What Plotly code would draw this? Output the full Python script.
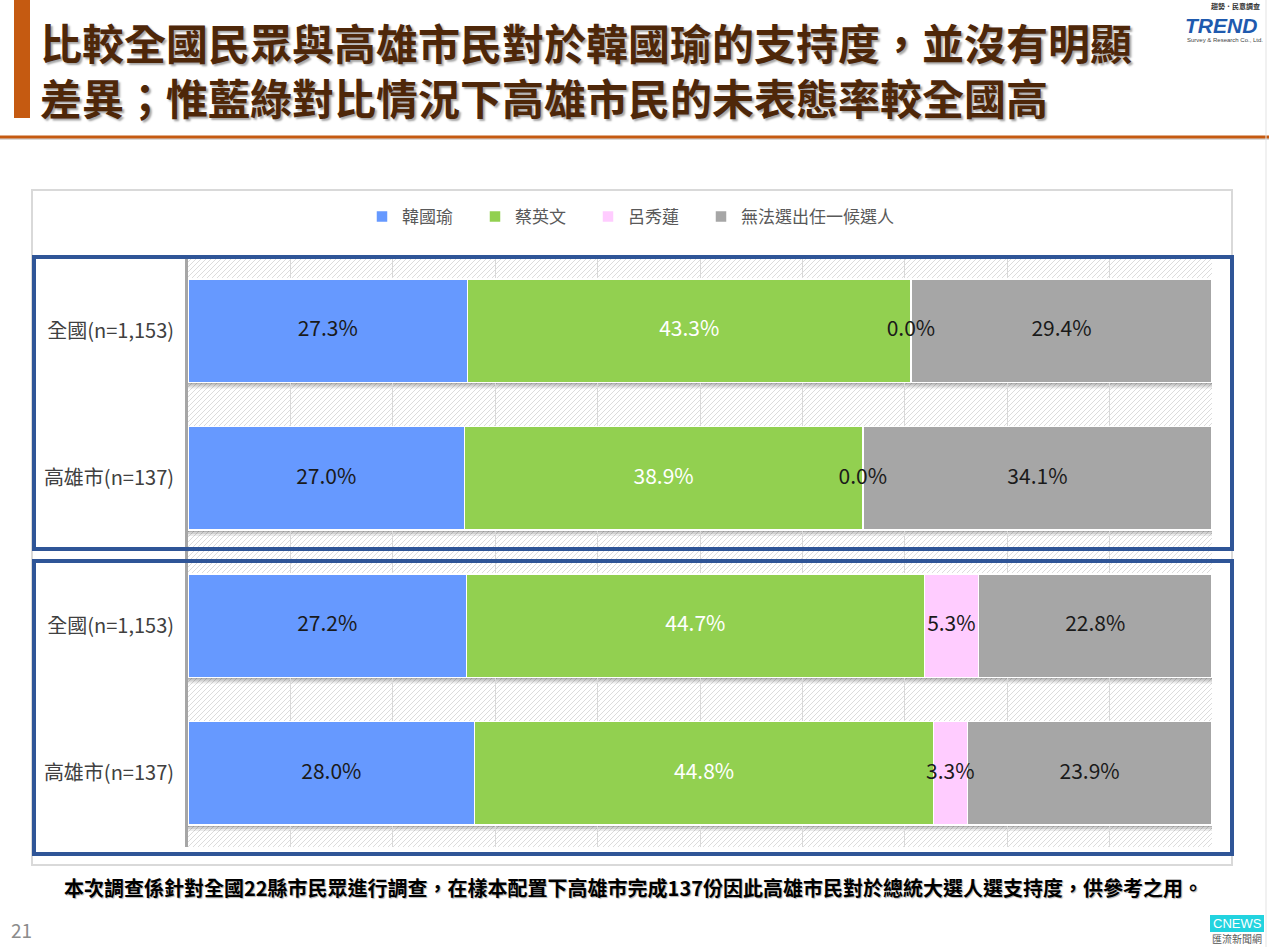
import plotly.graph_objects as go

# ---------------- data ----------------
categories = ["全國(n=1,153)", "高雄市(n=137)", "全國(n=1,153)", "高雄市(n=137)"]
series_names = ["韓國瑜", "蔡英文", "呂秀蓮", "無法選出任一候選人"]
han_kuo_yu = [27.3, 27.0, 27.2, 28.0]
tsai_ing_wen = [43.3, 38.9, 44.7, 44.8]
lu_hsiu_lien = [0.0, 0.0, 5.3, 3.3]
no_choice = [29.4, 34.1, 22.8, 23.9]
series_values = [han_kuo_yu, tsai_ing_wen, lu_hsiu_lien, no_choice]
series_colors = ["#6699FF", "#92D050", "#FFCCFF", "#A6A6A6"]
label_colors = ["#1a1a1a", "#ffffff", "#1a1a1a", "#1a1a1a"]

title_line1 = "比較全國民眾與高雄市民對於韓國瑜的支持度，並沒有明顯"
title_line2 = "差異；惟藍綠對比情況下高雄市民的未表態率較全國高"
footnote = "本次調查係針對全國22縣市民眾進行調查，在樣本配置下高雄市完成137份因此高雄市民對於總統大選人選支持度，供參考之用。"
page_number = "21"

# ---------------- layout geometry ----------------
W, H = 1269, 947
L, R, T, B = 188, 1212, 257, 847
CJK = "Noto Sans CJK TC, Noto Sans, sans-serif"


def px(x):
    return (x - L) / (R - L)


def py(y):
    return (B - y) / (B - T)


rows = list(range(len(categories)))
xu = (R - L) / 100.0
yu = (B - T) / len(categories)

fig = go.Figure()

for name, vals, col in zip(series_names, series_values, series_colors):
    fig.add_trace(go.Bar(
        orientation="h", x=vals, y=rows, name=name + "\u2003", width=0.7,
        marker=dict(color=col, line=dict(color="white", width=1.5)),
        hovertemplate=name + ": %{x:.1f}%<extra></extra>",
    ))

# data labels at segment centres
cum = [0.0] * len(rows)
for name, vals, lc in zip(series_names, series_values, label_colors):
    centers = [c + v / 2 for c, v in zip(cum, vals)]
    cum = [c + v for c, v in zip(cum, vals)]
    fig.add_trace(go.Scatter(
        x=centers, y=rows, mode="text", text=[f"{v:.1f}%" for v in vals],
        textposition="middle center",
        textfont=dict(size=21, color=lc, family=CJK),
        showlegend=False, hoverinfo="skip",
    ))

shapes = []

# hatched plot background (decoration)
segs = []
span = (B - T) + 40
p = L - span
while p < R + 10:
    x0p, y0p = p, B + 20
    x1p, y1p = p + span, T - 20
    x0 = (x0p - L) / xu
    x1 = (x1p - L) / xu
    y0 = (y0p - T) / yu - 0.5
    y1 = (y1p - T) / yu - 0.5
    segs.append(f"M{x0:.3f},{y0:.4f}L{x1:.3f},{y1:.4f}")
    p += 5
shapes.append(dict(type="path", xref="x", yref="y", path="".join(segs),
                   line=dict(color="#dcdcdc", width=1), layer="below"))

# soft shadows under bars
for r in rows:
    base = r + 0.35
    for k, op in enumerate([0.30, 0.18, 0.08]):
        shapes.append(dict(type="rect", xref="x", yref="y", x0=0, x1=100,
                           y0=base + (k * 2) / yu, y1=base + (k * 2 + 2) / yu,
                           fillcolor=f"rgba(0,0,0,{op})", line=dict(width=0),
                           layer="below"))

# outer chart border
shapes.append(dict(type="rect", xref="paper", yref="paper",
                   x0=px(32), x1=px(1232), y0=py(865), y1=py(190),
                   line=dict(color="#d9d9d9", width=2), layer="below"))
# blue group boxes
for y_top, y_bot in [(257, 549), (561, 854)]:
    shapes.append(dict(type="rect", xref="paper", yref="paper",
                       x0=px(34), x1=px(1232), y0=py(y_bot), y1=py(y_top),
                       line=dict(color="#2F5597", width=4), layer="above"))
# left orange accent bar
shapes.append(dict(type="rect", xref="paper", yref="paper",
                   x0=px(14), x1=px(30), y0=py(118), y1=py(0),
                   fillcolor="#C55A11", line=dict(width=0)))
# orange separator line
shapes.append(dict(type="line", xref="paper", yref="paper",
                   x0=px(0), x1=px(1269), y0=py(139), y1=py(139),
                   line=dict(color="#d9d9d9", width=2)))
shapes.append(dict(type="line", xref="paper", yref="paper",
                   x0=px(0), x1=px(1269), y0=py(137), y1=py(137),
                   line=dict(color="#C55A11", width=3)))
# slide right edge
shapes.append(dict(type="line", xref="paper", yref="paper",
                   x0=px(1266), x1=px(1266), y0=py(947), y1=py(0),
                   line=dict(color="#e3e3e3", width=1)))
# CNEWS badge
shapes.append(dict(type="rect", xref="paper", yref="paper",
                   x0=px(1210), x1=px(1264), y0=py(932), y1=py(915),
                   fillcolor="#22D3DF", line=dict(width=0)))

shadow = "2px 2px 2px rgba(0,0,0,0.35)"
annotations = [
    dict(text=title_line1 + "<br>" + title_line2, x=px(38), y=py(69),
         xanchor="left", yanchor="middle", align="left",
         font=dict(size=42, color="#4E2709", family=CJK, weight="bold", shadow=shadow)),
    dict(text=footnote, x=px(62), y=py(887), xanchor="left", yanchor="middle",
         font=dict(size=20, color="#000000", family=CJK, weight="bold",
                   shadow="1px 1px 1px rgba(0,0,0,0.3)")),
    dict(text=page_number, x=px(9), y=py(929), xanchor="left", yanchor="middle",
         font=dict(size=19, color="#8c8c8c", family=CJK)),
    dict(text="CNEWS", x=px(1237), y=py(923), xanchor="center", yanchor="middle",
         font=dict(size=13, color="#ffffff", family="Liberation Sans")),
    dict(text="匯流新聞網", x=px(1237), y=py(938), xanchor="center", yanchor="middle",
         font=dict(size=10, color="#555555", family=CJK)),
    dict(text="趨勢．民意調查", x=px(1262), y=py(6), xanchor="right", yanchor="middle",
         font=dict(size=7, color="#333333", family=CJK, weight="bold")),
    dict(text="<i><b>TREND</b></i>", x=px(1259), y=py(25), xanchor="right", yanchor="middle",
         font=dict(size=21, color="#1F5AAE", family="Liberation Sans")),
    dict(text="Survey & Research Co., Ltd.", x=px(1265), y=py(40), xanchor="right",
         yanchor="middle", font=dict(size=6, color="#444444", family="Liberation Sans")),
]
for a in annotations:
    a.update(xref="paper", yref="paper", showarrow=False)

fig.update_layout(
    width=W, height=H,
    margin=dict(l=L, r=W - R, t=T, b=H - B, pad=0),
    barmode="stack", bargap=0.3,
    paper_bgcolor="white", plot_bgcolor="white",
    font=dict(family=CJK, color="#404040"),
    showlegend=True,
    legend=dict(orientation="h", x=px(362), xanchor="left", y=py(217),
                yanchor="middle", font=dict(size=17, color="#595959", family=CJK),
                itemwidth=30, bgcolor="rgba(0,0,0,0)", traceorder="normal"),
    xaxis=dict(range=[0, 100], dtick=10, showgrid=True, gridcolor="#d9d9d9",
               gridwidth=1, zeroline=False, showticklabels=False, showline=False,
               fixedrange=True),
    yaxis=dict(type="linear", range=[3.5, -0.5], tickvals=rows, ticktext=categories,
               showgrid=False, zeroline=False, showline=True, linecolor="#a6a6a6",
               linewidth=3, ticks="", ticklabelstandoff=7,
               tickfont=dict(size=20, color="#404040", family=CJK), fixedrange=True),
    shapes=shapes,
    annotations=annotations,
    hovermode="closest",
)

fig.write_html("out.html")
